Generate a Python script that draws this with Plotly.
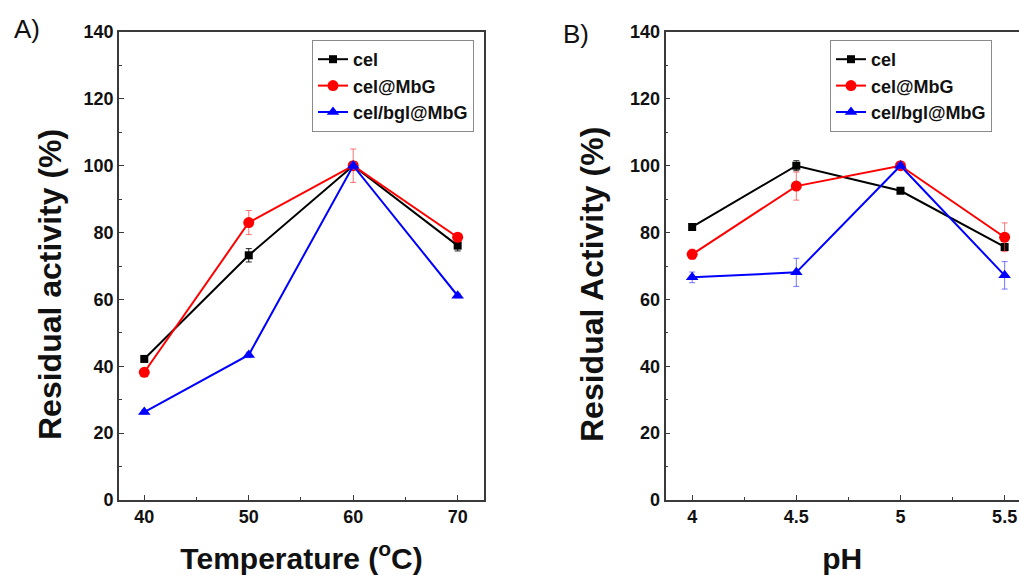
import plotly.graph_objects as go

# ---------------- data ----------------
temp = [40, 50, 60, 70]
temp_cel = [42.2, 73.2, 100.0, 76.1]
temp_cel_err = [0.8, 2.0, 1.0, 1.6]
temp_mbg = [38.2, 83.0, 100.0, 78.6]
temp_mbg_err = [0.8, 3.6, 5.0, 1.2]
temp_bgl = [26.3, 43.4, 100.0, 61.1]
temp_bgl_err = [0.6, 0.8, 1.0, 0.6]

ph = [4, 4.5, 5, 5.5]
ph_cel = [81.7, 100.0, 92.5, 75.7]
ph_cel_err = [0.8, 1.5, 0.8, 1.0]
ph_mbg = [73.5, 93.9, 100.0, 78.6]
ph_mbg_err = [1.5, 4.2, 0.8, 4.3]
ph_bgl = [66.6, 68.1, 100.0, 67.2]
ph_bgl_err = [1.6, 4.2, 0.8, 4.1]

names = ["cel", "cel@MbG", "cel/bgl@MbG"]
colors = ["#000000", "#FF0000", "#0000FF"]
err_colors = ["rgba(0,0,0,0.85)", "rgba(255,60,60,0.7)", "rgba(60,60,255,0.7)"]
symbols = ["square", "circle", "triangle-up"]
msizes = [8, 11, 11]

W, H = 1019, 575
FONT = "Liberation Sans, Arial, sans-serif"

fig = go.Figure()

panelA = [temp_cel, temp_mbg, temp_bgl]
panelA_err = [temp_cel_err, temp_mbg_err, temp_bgl_err]
panelB = [ph_cel, ph_mbg, ph_bgl]
panelB_err = [ph_cel_err, ph_mbg_err, ph_bgl_err]

for i in range(3):
    fig.add_trace(go.Scatter(
        x=temp, y=panelA[i], name=names[i], mode="lines+markers",
        line=dict(color=colors[i], width=2),
        marker=dict(symbol=symbols[i], size=msizes[i], color=colors[i]),
        error_y=dict(type="data", array=panelA_err[i], color=err_colors[i], thickness=1, width=3),
        xaxis="x", yaxis="y", legend="legend"))
for i in range(3):
    fig.add_trace(go.Scatter(
        x=ph, y=panelB[i], name=names[i], mode="lines+markers",
        line=dict(color=colors[i], width=2),
        marker=dict(symbol=symbols[i], size=msizes[i], color=colors[i]),
        error_y=dict(type="data", array=panelB_err[i], color=err_colors[i], thickness=1, width=3),
        xaxis="x2", yaxis="y2", legend="legend2"))

axcol = "#3a3a3a"
tickfont = dict(family=FONT, size=18, color="#111", weight="bold")
titlefont = dict(family=FONT, size=30, color="#111", weight="bold")
ytitlefont = dict(family=FONT, size=32, color="#111", weight="bold")

ydom = [1 - 500 / H, 1 - 32 / H]
common_y = dict(range=[0, 140], dtick=20, tick0=0, ticks="inside", ticklen=5, tickwidth=1.3,
                tickcolor=axcol, showline=True, linecolor=axcol, linewidth=1.6,
                showgrid=False, zeroline=False, tickfont=tickfont,
                minor=dict(dtick=10, ticks="inside", ticklen=3, tickcolor=axcol, tickwidth=1.2, showgrid=False),
                domain=ydom)
common_x = dict(ticks="inside", ticklen=5, tickwidth=1.3, tickcolor=axcol, showline=True,
                linecolor=axcol, linewidth=1.6, showgrid=False, zeroline=False, tickfont=tickfont)

legend_common = dict(y=1 - 40 / H, yanchor="top", bgcolor="white", bordercolor="#8a8a8a",
                     borderwidth=1, font=dict(family=FONT, size=18, color="#111", weight="bold"),
                     itemwidth=30, tracegroupgap=0)

fig.update_layout(
    width=W, height=H,
    margin=dict(l=0, r=0, t=0, b=0, autoexpand=False),
    paper_bgcolor="white", plot_bgcolor="white",
    font=dict(family=FONT, color="#111"),
    xaxis=dict(common_x, domain=[119 / W, 484 / W], range=[37.58, 72.52], dtick=10, tick0=40,
               mirror=True, anchor="y",
               minor=dict(dtick=5, ticks="inside", ticklen=3, tickcolor=axcol, tickwidth=1.2, showgrid=False),
               title=dict(text="Temperature (<sup>o</sup>C)", font=titlefont, standoff=22)),
    yaxis=dict(common_y, mirror=True, anchor="x"),
    xaxis2=dict(common_x, domain=[665.5 / W, 1.0], range=[3.872, 5.569], dtick=0.5, tick0=4,
                mirror=True, anchor="y2",
                minor=dict(dtick=0.25, ticks="inside", ticklen=3, tickcolor=axcol, tickwidth=1.2, showgrid=False),
                title=dict(text="pH", font=titlefont, standoff=22)),
    yaxis2=dict(common_y, mirror=False, anchor="x2"),
    legend=dict(legend_common, x=474 / W, xanchor="right"),
    legend2=dict(legend_common, x=830 / W, xanchor="left"),
    annotations=[
        dict(text="A)", x=27 / W, y=1 - 29 / H, xref="paper", yref="paper", showarrow=False,
             xanchor="center", yanchor="middle", font=dict(family=FONT, size=26, color="#111")),
        dict(text="B)", x=576 / W, y=1 - 34 / H, xref="paper", yref="paper", showarrow=False,
             xanchor="center", yanchor="middle", font=dict(family=FONT, size=26, color="#111")),
        dict(text="Residual activity (%)", x=50 / W, y=1 - 285 / H, xref="paper", yref="paper",
             showarrow=False, textangle=-90, xanchor="center", yanchor="middle", font=ytitlefont),
        dict(text="Residual Activity (%)", x=592 / W, y=1 - 285 / H, xref="paper", yref="paper",
             showarrow=False, textangle=-90, xanchor="center", yanchor="middle", font=ytitlefont),
    ],
    showlegend=True,
)

fig.write_html("out.html", config={"displayModeBar": False},
               post_script="document.body.style.margin='0';document.body.style.overflow='hidden';")
